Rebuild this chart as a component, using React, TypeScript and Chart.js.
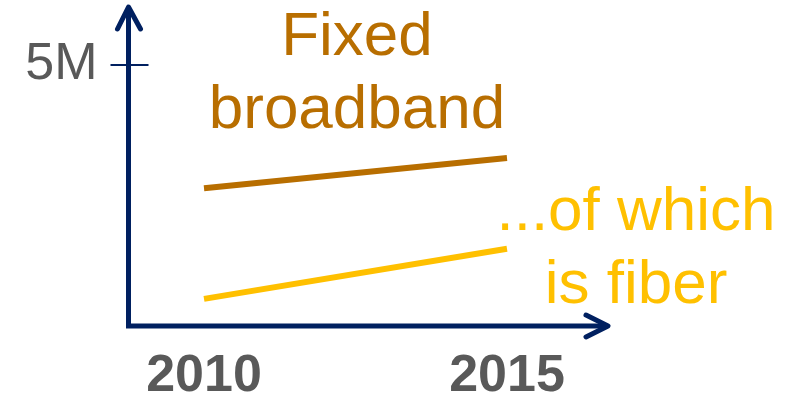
import { useEffect, useRef } from "react";
import { Chart, registerables } from "chart.js";

Chart.register(...registerables);

// Subscriptions in millions, by year
const years = [2010, 2015];
const fixedBroadband = [2.64, 3.22];
const fiber = [0.52, 1.48];

// Single labelled tick on the value axis
const yTickValues = [5];
const yTickLabels = ["5M"];

// Inline series captions
const broadbandCaption = ["Fixed", "broadband"];
const fiberCaption = ["...of which", "is fiber"];

const NAVY = "#002060";
const BROWN = "#b86e00";
const GOLD = "#ffc000";
const GRAY = "#595959";
const FONT = "'Liberation Sans', Arial, Helvetica, sans-serif";

// Draws the L-shaped axes with open arrowheads and the cross tick marks.
const arrowAxes = {
  id: "arrowAxes",
  afterDraw(chart: any) {
    const { ctx, chartArea: a, scales } = chart;
    const x0 = a.left;
    const y0 = a.bottom;
    ctx.save();
    ctx.strokeStyle = NAVY;
    ctx.lineWidth = 5;
    ctx.lineJoin = "miter";
    ctx.lineCap = "butt";
    ctx.beginPath();
    ctx.moveTo(x0, a.top + 2);
    ctx.lineTo(x0, y0);
    ctx.lineTo(a.right - 2, y0);
    ctx.stroke();

    ctx.lineCap = "round";
    ctx.lineJoin = "round";
    ctx.beginPath();
    ctx.moveTo(x0 - 11, a.top + 24);
    ctx.lineTo(x0, a.top + 2);
    ctx.lineTo(x0 + 12, a.top + 24);
    ctx.stroke();
    ctx.beginPath();
    ctx.moveTo(a.right - 24, y0 - 11);
    ctx.lineTo(a.right - 2, y0);
    ctx.lineTo(a.right - 24, y0 + 11);
    ctx.stroke();

    ctx.lineWidth = 2;
    ctx.lineCap = "butt";
    yTickValues.forEach((v) => {
      const py = scales.y.getPixelForValue(v);
      ctx.beginPath();
      ctx.moveTo(x0 - 18, py);
      ctx.lineTo(x0 + 20, py);
      ctx.stroke();
    });
    ctx.restore();
  },
};

// Captions written next to the lines instead of a legend.
const captions = {
  id: "captions",
  afterDraw(chart: any) {
    const { ctx } = chart;
    ctx.save();
    ctx.font = `62px ${FONT}`;
    ctx.textAlign = "center";
    ctx.textBaseline = "alphabetic";
    ctx.fillStyle = BROWN;
    broadbandCaption.forEach((t, i) => ctx.fillText(t, 357, 55 + i * 73));
    ctx.fillStyle = GOLD;
    fiberCaption.forEach((t, i) => ctx.fillText(t, 636, 230 + i * 73));
    ctx.restore();
  },
};

export default function App() {
  const canvasRef = useRef<HTMLCanvasElement | null>(null);

  useEffect(() => {
    const canvas = canvasRef.current;
    if (!canvas) return;
    const chart = new Chart(canvas, {
      type: "line",
      data: {
        datasets: [
          {
            label: "Fixed broadband",
            data: years.map((x, i) => ({ x, y: fixedBroadband[i] })),
            borderColor: BROWN,
            borderWidth: 6,
            borderCapStyle: "butt",
            pointRadius: 0,
            tension: 0,
          },
          {
            label: "Fiber",
            data: years.map((x, i) => ({ x, y: fiber[i] })),
            borderColor: GOLD,
            borderWidth: 6,
            borderCapStyle: "butt",
            pointRadius: 0,
            tension: 0,
          },
        ],
      },
      options: {
        responsive: false,
        animation: false,
        layout: { padding: { top: 5, right: 198, left: 0, bottom: 0 } },
        plugins: {
          legend: { display: false },
          tooltip: { enabled: false },
        },
        scales: {
          x: {
            type: "linear",
            min: 2008.754,
            max: 2016.7,
            grid: { display: false, drawTicks: false },
            border: { display: false },
            afterBuildTicks: (s: any) => {
              s.ticks = years.map((v) => ({ value: v }));
            },
            afterFit: (s: any) => {
              s.height = 74;
              s.paddingLeft = 0;
              s.paddingRight = 0;
            },
            ticks: {
              autoSkip: false,
              maxRotation: 0,
              padding: 19,
              color: GRAY,
              font: { family: FONT, size: 52, weight: "bold" },
              callback: (v: any) => String(v),
            },
          },
          y: {
            min: 0,
            max: 6.15,
            grid: { display: false, drawTicks: false },
            border: { display: false },
            afterBuildTicks: (s: any) => {
              s.ticks = yTickValues.map((v) => ({ value: v }));
            },
            afterFit: (s: any) => {
              s.width = 128.5;
              s.paddingTop = 0;
              s.paddingBottom = 0;
            },
            ticks: {
              padding: 31,
              color: GRAY,
              font: { family: FONT, size: 52 },
              callback: (v: any) => {
                const i = yTickValues.indexOf(Number(v));
                return i >= 0 ? yTickLabels[i] : "";
              },
            },
          },
        },
      },
      plugins: [arrowAxes, captions],
    });
    return () => chart.destroy();
  }, []);

  return (
    <div style={{ position: "absolute", left: 0, top: 0, width: 808, height: 400, background: "#fff" }}>
      <canvas ref={canvasRef} width={808} height={400} style={{ display: "block" }} />
    </div>
  );
}
